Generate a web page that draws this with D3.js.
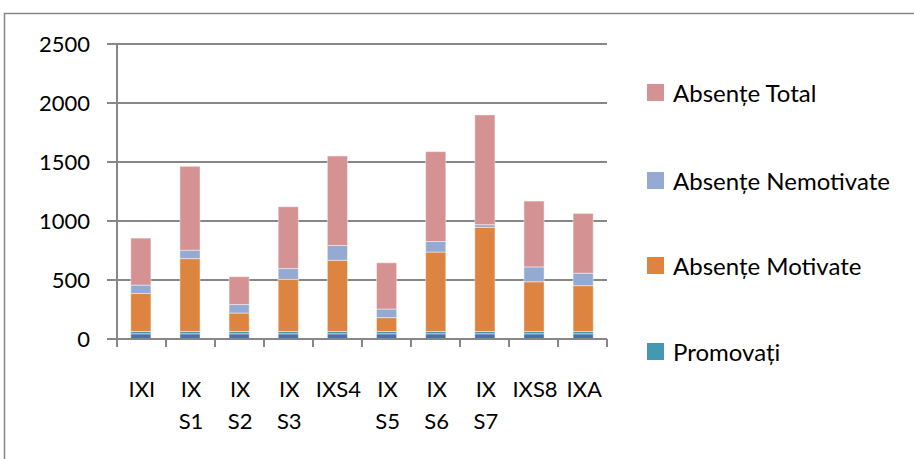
<!DOCTYPE html>
<html><head><meta charset="utf-8">
<script src="https://cdn.jsdelivr.net/npm/d3@7"></script>
<style>body{margin:0;background:#fff}svg{display:block}text{font-family:Lato,"Open Sans",sans-serif;fill:#000}</style>
</head><body><svg id="c" width="914" height="459"></svg>
<script>
const categories = ["IXI","IX S1","IX S2","IX S3","IXS4","IX S5","IX S6","IX S7","IXS8","IXA"];
const elevi = [44,44,44,44,44,44,44,44,44,44];
const promovati = [20,20,20,20,20,20,20,20,20,20];
const absenteMotivate = [322,617,156,441,603,117,673,882,421,388];
const absenteNemotivate = [71,72,72,92,126,73,89,23,126,106];
const absenteTotal = [398,710,236,524,758,392,762,930,558,506];
const yTicks = [0,500,1000,1500,2000,2500];

const series = [
  {name:"Elevi", values:elevi, color:"#4a71a9", legend:false},
  {name:"Promovați", values:promovati, color:"#4299b0", legend:true},
  {name:"Absențe Motivate", values:absenteMotivate, color:"#dd8441", legend:true},
  {name:"Absențe Nemotivate", values:absenteNemotivate, color:"#95aad2", legend:true},
  {name:"Absențe Total", values:absenteTotal, color:"#d49292", legend:true}
];

const svg = d3.select("#c");
const L=117, R=607, T=44, B=339;
const x = d3.scaleBand().domain(categories).range([L,R]).paddingInner(0.59).paddingOuter(0.28);
const y = d3.scaleLinear().domain([0,2500]).range([B,T]);
const grey = "#878787";

// outer frame
svg.append("rect").attr("x",4.5).attr("y",13.5).attr("width",1000).attr("height",1000)
  .attr("fill","none").attr("stroke",grey).attr("stroke-width",1.5);

// gridlines + y ticks
svg.append("g").selectAll("line").data(yTicks).join("line")
  .attr("x1",107).attr("x2",R).attr("y1",d=>y(d)).attr("y2",d=>y(d))
  .attr("stroke",grey).attr("stroke-width",2);
svg.append("line").attr("x1",L).attr("x2",L).attr("y1",T).attr("y2",B)
  .attr("stroke",grey).attr("stroke-width",2);
svg.append("g").selectAll("text").data(yTicks).join("text")
  .attr("x",90).attr("y",d=>y(d)).attr("dy","0.36em").attr("text-anchor","end")
  .attr("font-size",22).text(d=>d);

// stacked bars
const rows = categories.map((c,i)=>{const o={cat:c}; series.forEach(s=>o[s.name]=s.values[i]); return o;});
const stack = d3.stack().keys(series.map(s=>s.name))(rows);
svg.append("g").selectAll("g").data(stack).join("g")
  .attr("fill",(d,i)=>series[i].color)
  .selectAll("rect").data(d=>d).join("rect")
  .attr("x",d=>x(d.data.cat)).attr("width",x.bandwidth())
  .attr("y",d=>y(d[1])).attr("height",d=>y(d[0])-y(d[1]))
  .attr("stroke","rgba(255,255,255,0.45)").attr("stroke-width",1);

// x axis line and ticks
svg.append("line").attr("x1",107).attr("x2",R).attr("y1",B).attr("y2",B)
  .attr("stroke",grey).attr("stroke-width",2);
const bounds = d3.range(categories.length+1).map(i=>L+i*(R-L)/categories.length);
svg.append("g").selectAll("line").data(bounds).join("line")
  .attr("x1",d=>d).attr("x2",d=>d).attr("y1",B).attr("y2",B+8)
  .attr("stroke",grey).attr("stroke-width",2);

// x labels
const xl = svg.append("g").selectAll("text").data(categories).join("text")
  .attr("text-anchor","middle").attr("font-size",22)
  .attr("x",d=>x(d)+x.bandwidth()/2+1).attr("y",397);
xl.each(function(d){
  const parts=d.split(" ");
  const t=d3.select(this);
  parts.forEach((p,i)=>t.append("tspan").attr("x",t.attr("x")).attr("dy",i===0?0:32).text(p));
});

// legend
const leg = series.filter(s=>s.legend).reverse();
const ly = [84,172,257,343];
const lg = svg.append("g").selectAll("g").data(leg).join("g")
  .attr("transform",(d,i)=>`translate(647,${ly[i]})`);
lg.append("rect").attr("width",17).attr("height",17).attr("fill",d=>d.color);
lg.append("text").attr("x",26).attr("y",18).attr("font-size",24).text(d=>d.name);
</script></body></html>
